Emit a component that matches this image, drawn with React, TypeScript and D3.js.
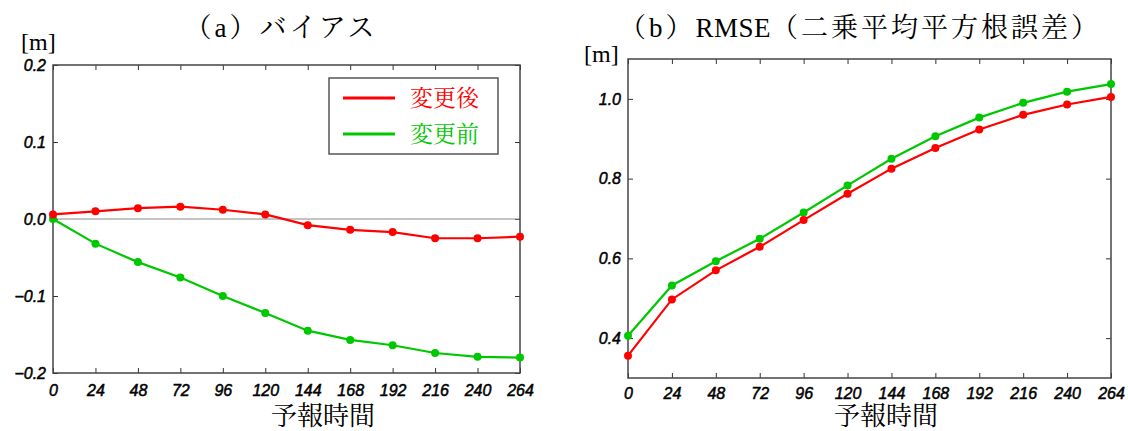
import React, { useEffect, useRef } from 'react';
import * as d3 from 'd3';

// 予報時間 (x軸)
const hours = [0, 24, 48, 72, 96, 120, 144, 168, 192, 216, 240, 264];

// (a) バイアス
const biasAfter = [0.006, 0.010, 0.014, 0.016, 0.012, 0.006, -0.008, -0.014, -0.017, -0.025, -0.025, -0.023];
const biasBefore = [0.0, -0.032, -0.056, -0.076, -0.100, -0.122, -0.145, -0.157, -0.164, -0.174, -0.179, -0.180];

// (b) RMSE
const rmseAfter = [0.356, 0.497, 0.570, 0.629, 0.696, 0.762, 0.825, 0.877, 0.923, 0.960, 0.986, 1.005];
const rmseBefore = [0.406, 0.532, 0.593, 0.649, 0.715, 0.783, 0.850, 0.906, 0.953, 0.990, 1.018, 1.037];

const biasTicks = [-0.2, -0.1, 0.0, 0.1, 0.2];
const rmseTicks = [0.4, 0.6, 0.8, 1.0];

const seriesNames = ['変更後', '変更前'];
// タイトル: [文字列, 字間]
const titleA = [['（a）バイアス', 3]];
const titleB = [['（b）', 3], ['RMSE', 0.5], ['（二乗平均平方根誤差）', 3]];

const RED = '#ff0000';
const GREEN = '#00c800';

const W = 1128;
const H = 431;

const serifFont = '"Liberation Serif", "Noto Serif CJK JP", "IPAMincho", "Noto Sans CJK JP", serif';
const tickFont = '"Liberation Sans", Arial, sans-serif';

const App = () => {
    const svgRef = useRef(null);

    useEffect(() => {
        const svg = d3.select(svgRef.current);
        svg.selectAll('*').remove();

        // パネル描画
        const drawPanel = (opts) => {
            const { left, right, top, bottom, yDomain, yTicks, after, before, title, titleX, xTitleX, unitX, unitY, zeroLine, tickPadX } = opts;

            const x = d3.scaleLinear().domain([0, 264]).range([left, right]);
            const y = d3.scaleLinear().domain(yDomain).range([bottom, top]);
            const g = svg.append('g');

            // 軸 (内向きの目盛り)
            const styleAxis = (sel) => {
                sel.select('.domain').remove();
                sel.selectAll('line').attr('stroke', '#333').attr('stroke-width', 1);
                sel.selectAll('text')
                    .style('font-family', tickFont)
                    .style('font-style', 'italic')
                    .style('font-size', '16px')
                    .attr('fill', '#000')
                    .attr('stroke', '#000')
                    .attr('stroke-width', 0.5);
            };

            g.append('g')
                .attr('transform', `translate(0,${bottom})`)
                .call(d3.axisBottom(x).tickValues(hours).tickSizeInner(-5).tickSizeOuter(0).tickPadding(tickPadX).tickFormat(d3.format('d')))
                .call(styleAxis);
            g.append('g')
                .attr('transform', `translate(0,${top})`)
                .call(d3.axisTop(x).tickValues(hours).tickSizeInner(-5).tickSizeOuter(0).tickFormat(() => ''))
                .call(styleAxis);
            g.append('g')
                .attr('transform', `translate(${left},0)`)
                .call(d3.axisLeft(y).tickValues(yTicks).tickSizeInner(-5).tickSizeOuter(0).tickPadding(7).tickFormat(d3.format('.1f')))
                .call(styleAxis);
            g.append('g')
                .attr('transform', `translate(${right},0)`)
                .call(d3.axisRight(y).tickValues(yTicks).tickSizeInner(-5).tickSizeOuter(0).tickFormat(() => ''))
                .call(styleAxis);

            // ゼロ線
            if (zeroLine) {
                g.append('line')
                    .attr('x1', left).attr('x2', right)
                    .attr('y1', y(0)).attr('y2', y(0))
                    .attr('stroke', '#888').attr('stroke-width', 1);
            }

            // 枠
            g.append('rect')
                .attr('x', left).attr('y', top)
                .attr('width', right - left).attr('height', bottom - top)
                .attr('fill', 'none').attr('stroke', '#444').attr('stroke-width', 1.5);

            // 折れ線とマーカー
            const line = d3.line().x((d, i) => x(hours[i])).y(d => y(d)).curve(d3.curveLinear);
            [[before, GREEN], [after, RED]].forEach(([vals, color]) => {
                g.append('path')
                    .datum(vals)
                    .attr('d', line)
                    .attr('fill', 'none')
                    .attr('stroke', color)
                    .attr('stroke-width', 2.2);
                g.selectAll(null)
                    .data(vals)
                    .join('circle')
                    .attr('cx', (d, i) => x(hours[i]))
                    .attr('cy', d => y(d))
                    .attr('r', 4)
                    .attr('fill', color);
            });

            // タイトル
            const t = g.append('text')
                .attr('x', titleX).attr('y', 37)
                .attr('text-anchor', 'middle')
                .style('font-family', serifFont)
                .style('font-size', '27px');
            title.forEach(([s, sp]) => {
                t.append('tspan').style('letter-spacing', `${sp}px`).text(s);
            });

            // 単位
            g.append('text')
                .attr('x', unitX).attr('y', unitY)
                .style('font-family', serifFont)
                .style('font-size', '24px')
                .text('[m]');

            // x軸タイトル
            g.append('text')
                .attr('x', xTitleX).attr('y', 425)
                .attr('text-anchor', 'middle')
                .style('font-family', serifFont)
                .style('font-size', '26px')
                .text('予報時間');
        };

        drawPanel({
            left: 53, right: 520, top: 65, bottom: 373,
            yDomain: [-0.2, 0.2], yTicks: biasTicks,
            after: biasAfter, before: biasBefore,
            title: titleA, titleX: 281, xTitleX: 323,
            unitX: 21, unitY: 50, zeroLine: true, tickPadX: 12
        });

        drawPanel({
            left: 628, right: 1111, top: 59, bottom: 378,
            yDomain: [0.3, 1.1], yTicks: rmseTicks,
            after: rmseAfter, before: rmseBefore,
            title: titleB, titleX: 860, xTitleX: 886,
            unitX: 584, unitY: 62, zeroLine: false, tickPadX: 10
        });

        // 凡例
        const legend = svg.append('g');
        legend.append('rect')
            .attr('x', 329).attr('y', 78)
            .attr('width', 169).attr('height', 76)
            .attr('fill', '#fff').attr('stroke', '#555').attr('stroke-width', 1.5);
        [[seriesNames[0], RED], [seriesNames[1], GREEN]].forEach(([name, color], i) => {
            const ly = 98 + i * 36;
            legend.append('line')
                .attr('x1', 343).attr('x2', 395)
                .attr('y1', ly).attr('y2', ly)
                .attr('stroke', color).attr('stroke-width', 3);
            legend.append('text')
                .attr('x', 410).attr('y', ly)
                .attr('dominant-baseline', 'central')
                .attr('fill', color)
                .style('font-family', serifFont)
                .style('font-size', '23px')
                .text(name);
        });
    }, []);

    return (
        <div style={{ position: 'absolute', left: 0, top: 0 }}>
            <svg ref={svgRef} width={W} height={H} style={{ display: 'block', background: '#fff' }}></svg>
        </div>
    );
};

export default App;
